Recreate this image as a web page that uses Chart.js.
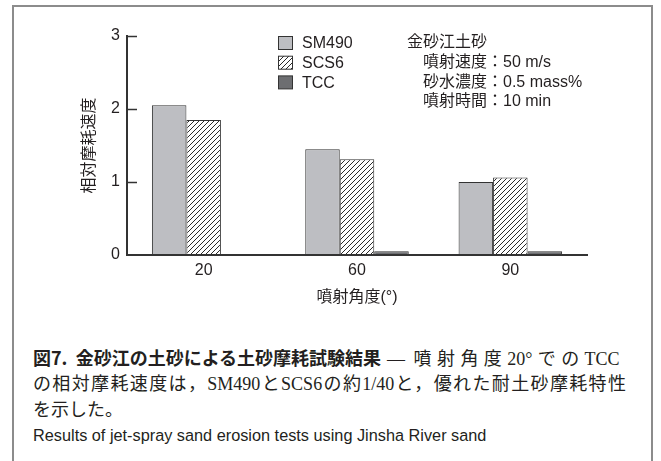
<!DOCTYPE html>
<html>
<head>
<meta charset="utf-8">
<script src="https://cdn.jsdelivr.net/npm/chart.js@4.4.1/dist/chart.umd.min.js"></script>
<style>
  html, body { margin: 0; padding: 0; background: #fff; }
  body { width: 661px; height: 461px; position: relative; overflow: hidden; }
  #frame { position: absolute; left: 12px; top: 5px; width: 637px; height: 470px;
           border: 2px solid #8c8c8c; border-bottom: none; }
  #chart { position: absolute; left: 0; top: 0; }
  .cap { position: absolute; left: 33px; white-space: nowrap; color: #231f20;
         height: 24px; line-height: 24px; }
  .b { font-family: 'Noto Sans CJK JP', sans-serif; font-weight: 700; font-size: 18px; }
  .m { font-family: 'Liberation Serif', 'Noto Sans CJK JP', serif; font-weight: 400; font-size: 18px; }
  .j { display: inline-block; text-align: justify; text-align-last: justify; white-space: normal; }
  .en { font-family: 'Liberation Sans', sans-serif; font-size: 16.3px; }
</style>
</head>
<body>
<div id="frame"></div>
<canvas id="chart" width="661" height="320"></canvas>
<div class="cap" style="top:345px"><span class="b">図7.&nbsp; 金砂江の土砂による土砂摩耗試験結果</span><span class="m" style="margin-left:6px">—&nbsp;</span><span class="m j" style="width:206px;margin-left:4px">噴射角度20°でのTCC</span></div>
<div class="cap m j" style="top:372px;width:593px">の相対摩耗速度は，SM490とSCS6の約1/40と，優れた耐土砂摩耗特性</div>
<div class="cap m" style="top:398px">を示した。</div>
<div class="cap en" style="top:423px">Results of jet-spray sand erosion tests using Jinsha River sand</div>
<script>
// Spray angle categories and relative wear rates per material
const angles = ['20', '60', '90'];
const sm490 = [2.05, 1.45, 1.00];
const scs6 = [1.85, 1.31, 1.06];
const tcc = [0.01, 0.05, 0.05];
const yTicks = [0, 1, 2, 3];
const seriesNames = ['SM490', 'SCS6', 'TCC'];
const testNotes = ['金砂江土砂', '噴射速度：50 m/s', '砂水濃度：0.5 mass%', '噴射時間：10 min'];

const FONT = "'Liberation Sans', 'Noto Sans CJK JP', sans-serif";
const INK = '#231f20';
const EDGE = '#333333';

// diagonal hatch fill for the SCS6 bars
function makeHatch() {
  const s = 5;
  const c = document.createElement('canvas');
  c.width = s; c.height = s;
  const g = c.getContext('2d');
  g.fillStyle = '#ffffff';
  g.fillRect(0, 0, s, s);
  g.strokeStyle = '#2a2a2a';
  g.lineWidth = 1;
  g.beginPath();
  g.moveTo(0, s); g.lineTo(s, 0);
  g.moveTo(-1, 1); g.lineTo(1, -1);
  g.moveTo(s - 1, s + 1); g.lineTo(s + 1, s - 1);
  g.stroke();
  return document.createElement('canvas').getContext('2d').createPattern(c, 'repeat');
}
const hatch = makeHatch();

// short tick marks pointing into the plot from the value axis
const innerTicks = {
  id: 'innerTicks',
  afterDraw(chart) {
    const y = chart.scales.y;
    const ctx = chart.ctx;
    ctx.save();
    ctx.strokeStyle = EDGE;
    ctx.lineWidth = 1.5;
    yTicks.forEach(v => {
      if (v === 0) return;
      const py = Math.round(y.getPixelForValue(v)) + 0.5;
      ctx.beginPath();
      ctx.moveTo(chart.chartArea.left, py);
      ctx.lineTo(chart.chartArea.left + 10, py);
      ctx.stroke();
    });
    ctx.restore();
  }
};

// legend swatches plus the test-condition notes in the upper plot area
const sideLegend = {
  id: 'sideLegend',
  afterDraw(chart) {
    const ctx = chart.ctx;
    ctx.save();
    ctx.font = '16px ' + FONT;
    ctx.textBaseline = 'middle';
    ctx.fillStyle = INK;
    chart.data.datasets.forEach((ds, i) => {
      const cy = 43 + i * 19.7;
      ctx.fillStyle = ds.backgroundColor;
      ctx.fillRect(278.5, cy - 6.5, 14, 13);
      ctx.strokeStyle = EDGE;
      ctx.lineWidth = 1;
      ctx.strokeRect(278.5, cy - 6.5, 14, 13);
      ctx.fillStyle = INK;
      ctx.fillText(ds.label, 302, cy + 1);
    });
    testNotes.forEach((t, i) => {
      const x = i === 0 ? 407 : 423;
      ctx.fillText(t, x, 43 + i * 19.6);
    });
    ctx.restore();
  }
};

new Chart(document.getElementById('chart'), {
  type: 'bar',
  data: {
    labels: angles,
    datasets: [
      { label: seriesNames[0], data: sm490, backgroundColor: '#bdbec2', borderColor: EDGE, borderWidth: 1 },
      { label: seriesNames[1], data: scs6, backgroundColor: hatch, borderColor: EDGE, borderWidth: 1 },
      { label: seriesNames[2], data: tcc, backgroundColor: '#6d6e71', borderColor: EDGE, borderWidth: 1 }
    ]
  },
  options: {
    responsive: false,
    animation: false,
    devicePixelRatio: 1,
    layout: { padding: { left: 0, right: 74, top: 36, bottom: 0 } },
    datasets: { bar: { barPercentage: 1, categoryPercentage: 0.675, borderSkipped: 'bottom' } },
    plugins: { legend: { display: false }, tooltip: { enabled: false } },
    scales: {
      x: {
        offset: true,
        grid: { display: false, drawTicks: false },
        border: { display: true, color: EDGE, width: 2, z: 1 },
        ticks: { font: { size: 16, family: FONT }, color: INK, padding: 6 },
        title: { display: true, text: '噴射角度(°)', font: { size: 16, family: FONT }, color: INK,
                 padding: { top: 0, bottom: 13 } },
        afterFit(s) { s.height = 65; }
      },
      y: {
        min: 0, max: 3,
        afterBuildTicks(s) { s.ticks = yTicks.map(v => ({ value: v })); },
        grid: { display: false, drawTicks: false },
        border: { display: true, color: EDGE, width: 2 },
        ticks: { font: { size: 16, family: FONT }, color: INK, padding: 7 },
        title: { display: true, text: '相対摩耗速度', font: { size: 16, family: FONT }, color: INK,
                 padding: { top: 80, bottom: 0 } },
        afterFit(s) { s.width = 127; }
      }
    }
  },
  plugins: [innerTicks, sideLegend]
});
</script>
</body>
</html>
